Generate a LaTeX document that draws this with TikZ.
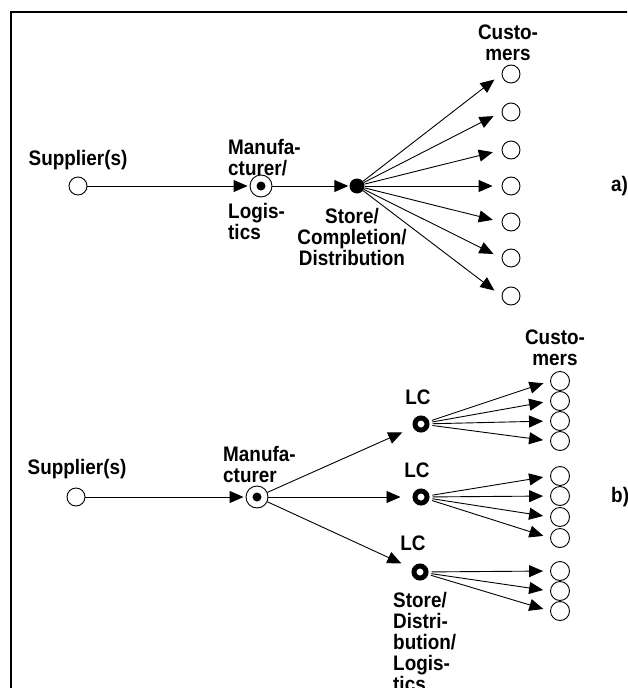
\documentclass[tikz,border=0pt]{standalone}
\usepackage{fontspec}
\setmainfont{Liberation Sans}[FakeStretch=0.9]
\usetikzlibrary{arrows.meta}
\begin{document}
\begin{tikzpicture}[x=1pt,y=-1pt,
  every node/.style={inner sep=0pt},
  lbl/.style={font=\bfseries\fontsize{21}{21}\selectfont, align=center},
  lbll/.style={font=\bfseries\fontsize{21}{21}\selectfont, align=left},
  cust/.style={circle, draw, line width=0.9pt, minimum size=18pt},
  bcust/.style={circle, draw, line width=0.9pt, minimum size=19pt},
  manu/.style={circle, draw, line width=0.9pt, minimum size=22pt,
    path picture={\fill (path picture bounding box.center) circle (4.5pt);}},
  store/.style={circle, fill, minimum size=15pt},
  lcnode/.style={circle, draw, line width=5pt, minimum size=12pt},
  arr/.style={-{Triangle[length=14pt,width=12pt]}, line width=0.9pt},
]
\useasboundingbox (0,0) rectangle (627,688);
\clip (0,0) rectangle (627,688);
% frame
\draw[line width=1.2pt] (11,700) -- (11,12) -- (640,12);

% ---------- part a ----------
\node[cust] (sa) at (78,186) {};
\node[lbl] (sal) at (78,160) {Supplier(s)};
\node[manu] (ma) at (261,186) {};
\node[lbll, anchor=west] (mal1) at (228,158) {Manufa-\\cturer/};
\node[lbll, anchor=west] (mal2) at (228,221) {Logis-\\tics};
\node[store] (st) at (357,186) {};
\node[lbl] (stl) at (352,237) {Store/\\Completion/\\Distribution};
\node[lbl] (cal) at (508,43) {Custo-\\mers};
\foreach \i/\y in {1/74,2/112,3/150,4/186,5/222,6/258,7/296}
  \node[cust] (ca\i) at (511,\y) {};
\node[lbl, anchor=west] (la) at (611,186) {a)};

\draw[arr, shorten >=2pt] (sa) -- (ma);
\draw[arr, shorten >=1pt] (ma) -- (st);
\foreach \i in {1,...,7}
  \draw[arr, shorten >=9pt] (st) -- (ca\i.west);

% ---------- part b ----------
\node[cust] (sb) at (76,497) {};
\node[lbl] (sbl) at (77,469) {Supplier(s)};
\node[manu] (mb) at (257,497) {};
\node[lbll, anchor=west] (mbl) at (223,464) {Manufa-\\cturer};
\node[lcnode] (lc1) at (421,424) {};
\node[lcnode] (lc2) at (421,497) {};
\node[lcnode] (lc3) at (420,572) {};
\node[lbl] (lcl1) at (418,397) {LC};
\node[lbl] (lcl2) at (417,470) {LC};
\node[lbl] (lcl3) at (413,543) {LC};
\node[lbll, anchor=north west] (sdl) at (393,592) {Store/\\Distri-\\bution/\\Logis-\\tics};
\node[lbl] (cbl) at (555,348) {Custo-\\mers};
\node[lbl, anchor=west] (lb) at (611,497) {b)};

\foreach \i/\y in {1/381,2/401,3/421,4/441}
  \node[bcust] (b1\i) at (560,\y) {};
\foreach \i/\y in {1/476,2/496,3/517,4/538}
  \node[bcust] (b2\i) at (560,\y) {};
\foreach \i/\y in {1/571,2/591,3/611}
  \node[bcust] (b3\i) at (560,\y) {};

\draw[arr, shorten >=2pt] (sb) -- (mb);
\foreach \k in {1,2,3}
  \draw[arr, shorten >=12pt] (mb) -- (lc\k);
\foreach \i in {1,...,4}
  \draw[arr, shorten <=3pt, shorten >=7pt] (lc1) -- (b1\i.west);
\foreach \i in {1,...,4}
  \draw[arr, shorten <=3pt, shorten >=7pt] (lc2) -- (b2\i.west);
\foreach \i in {1,...,3}
  \draw[arr, shorten <=3pt, shorten >=7pt] (lc3) -- (b3\i.west);
\end{tikzpicture}
\end{document}
